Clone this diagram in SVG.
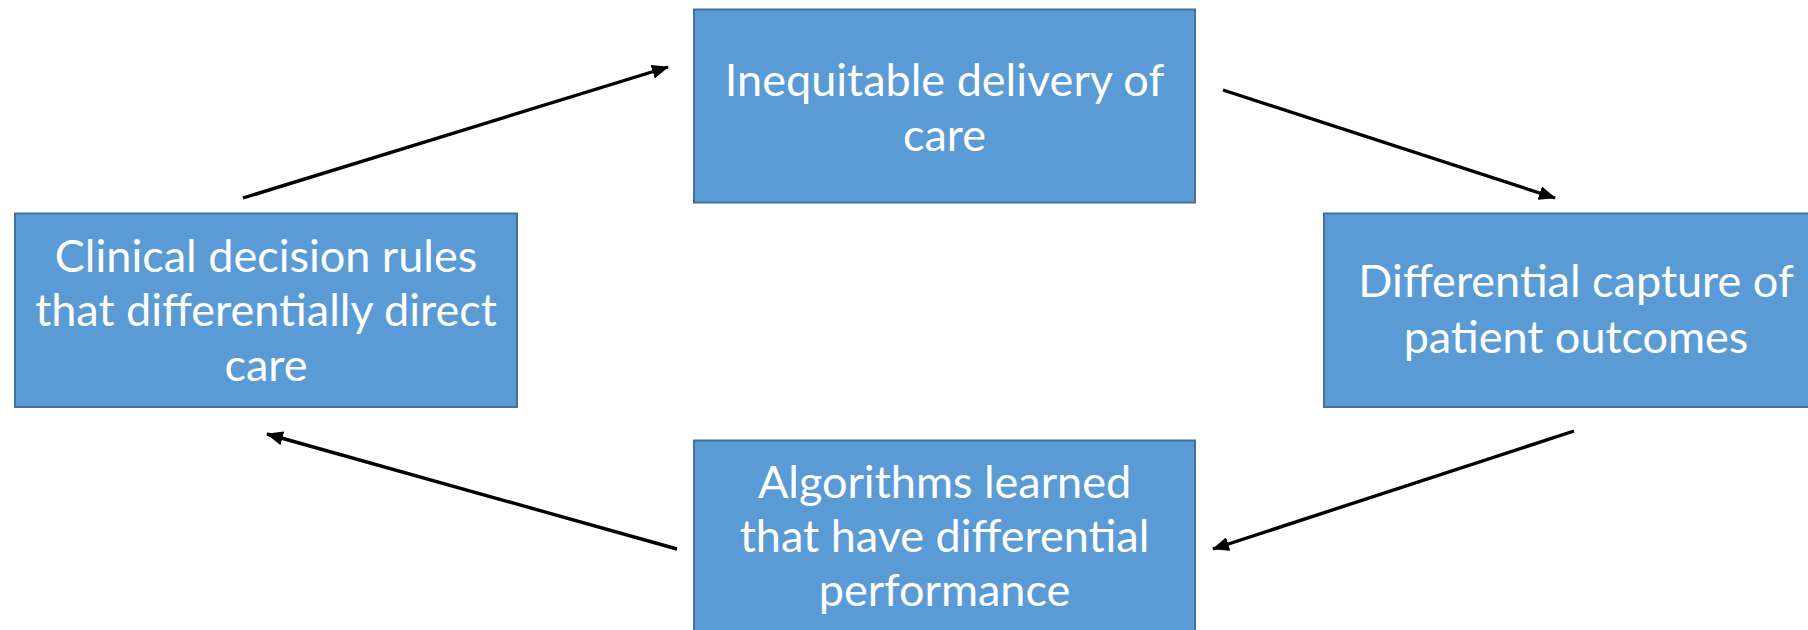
<svg xmlns="http://www.w3.org/2000/svg" width="1808" height="630" viewBox="0 0 1808 630">
  <style>
    .box { fill: #5b9bd5; stroke: #41719c; stroke-width: 2; }
    .label { font-family: Lato, "Open Sans", "Liberation Sans", sans-serif; font-size: 45px; fill: #ffffff; text-anchor: middle; }
    .link { stroke: #000000; stroke-width: 3.4; fill: none; marker-end: url(#head); }
  </style>
  <defs>
    <marker id="head" markerUnits="userSpaceOnUse" markerWidth="18" markerHeight="14" refX="16" refY="7" orient="auto">
      <path d="M0,0 L17,7 L0,14 Z" fill="#000000"/>
    </marker>
  </defs>

  <rect width="1808" height="630" fill="#ffffff"/>

  <g id="node-delivery">
    <rect class="box" x="694" y="9.5" width="501" height="193"/>
    <text class="label" x="944.5" y="96">Inequitable delivery of</text>
    <text class="label" x="944.5" y="151">care</text>
  </g>

  <g id="node-capture">
    <rect class="box" x="1324" y="213.5" width="502" height="193.5"/>
    <text class="label" x="1576" y="297">Differential capture of</text>
    <text class="label" x="1576" y="353">patient outcomes</text>
  </g>

  <g id="node-algorithms">
    <rect class="box" x="694" y="440.5" width="501" height="193"/>
    <text class="label" x="944.5" y="498">Algorithms learned</text>
    <text class="label" x="944.5" y="552">that have differential</text>
    <text class="label" x="944.5" y="606">performance</text>
  </g>

  <g id="node-rules">
    <rect class="box" x="15" y="213.5" width="502" height="193.5"/>
    <text class="label" x="266" y="272">Clinical decision rules</text>
    <text class="label" x="266" y="326">that differentially direct</text>
    <text class="label" x="266" y="381">care</text>
  </g>

  <g id="connectors">
    <line class="link" x1="243" y1="198" x2="668" y2="67"/>
    <line class="link" x1="1223" y1="90" x2="1555" y2="198"/>
    <line class="link" x1="1574" y1="431" x2="1213" y2="549"/>
    <line class="link" x1="677" y1="549" x2="267" y2="434"/>
  </g>
</svg>
